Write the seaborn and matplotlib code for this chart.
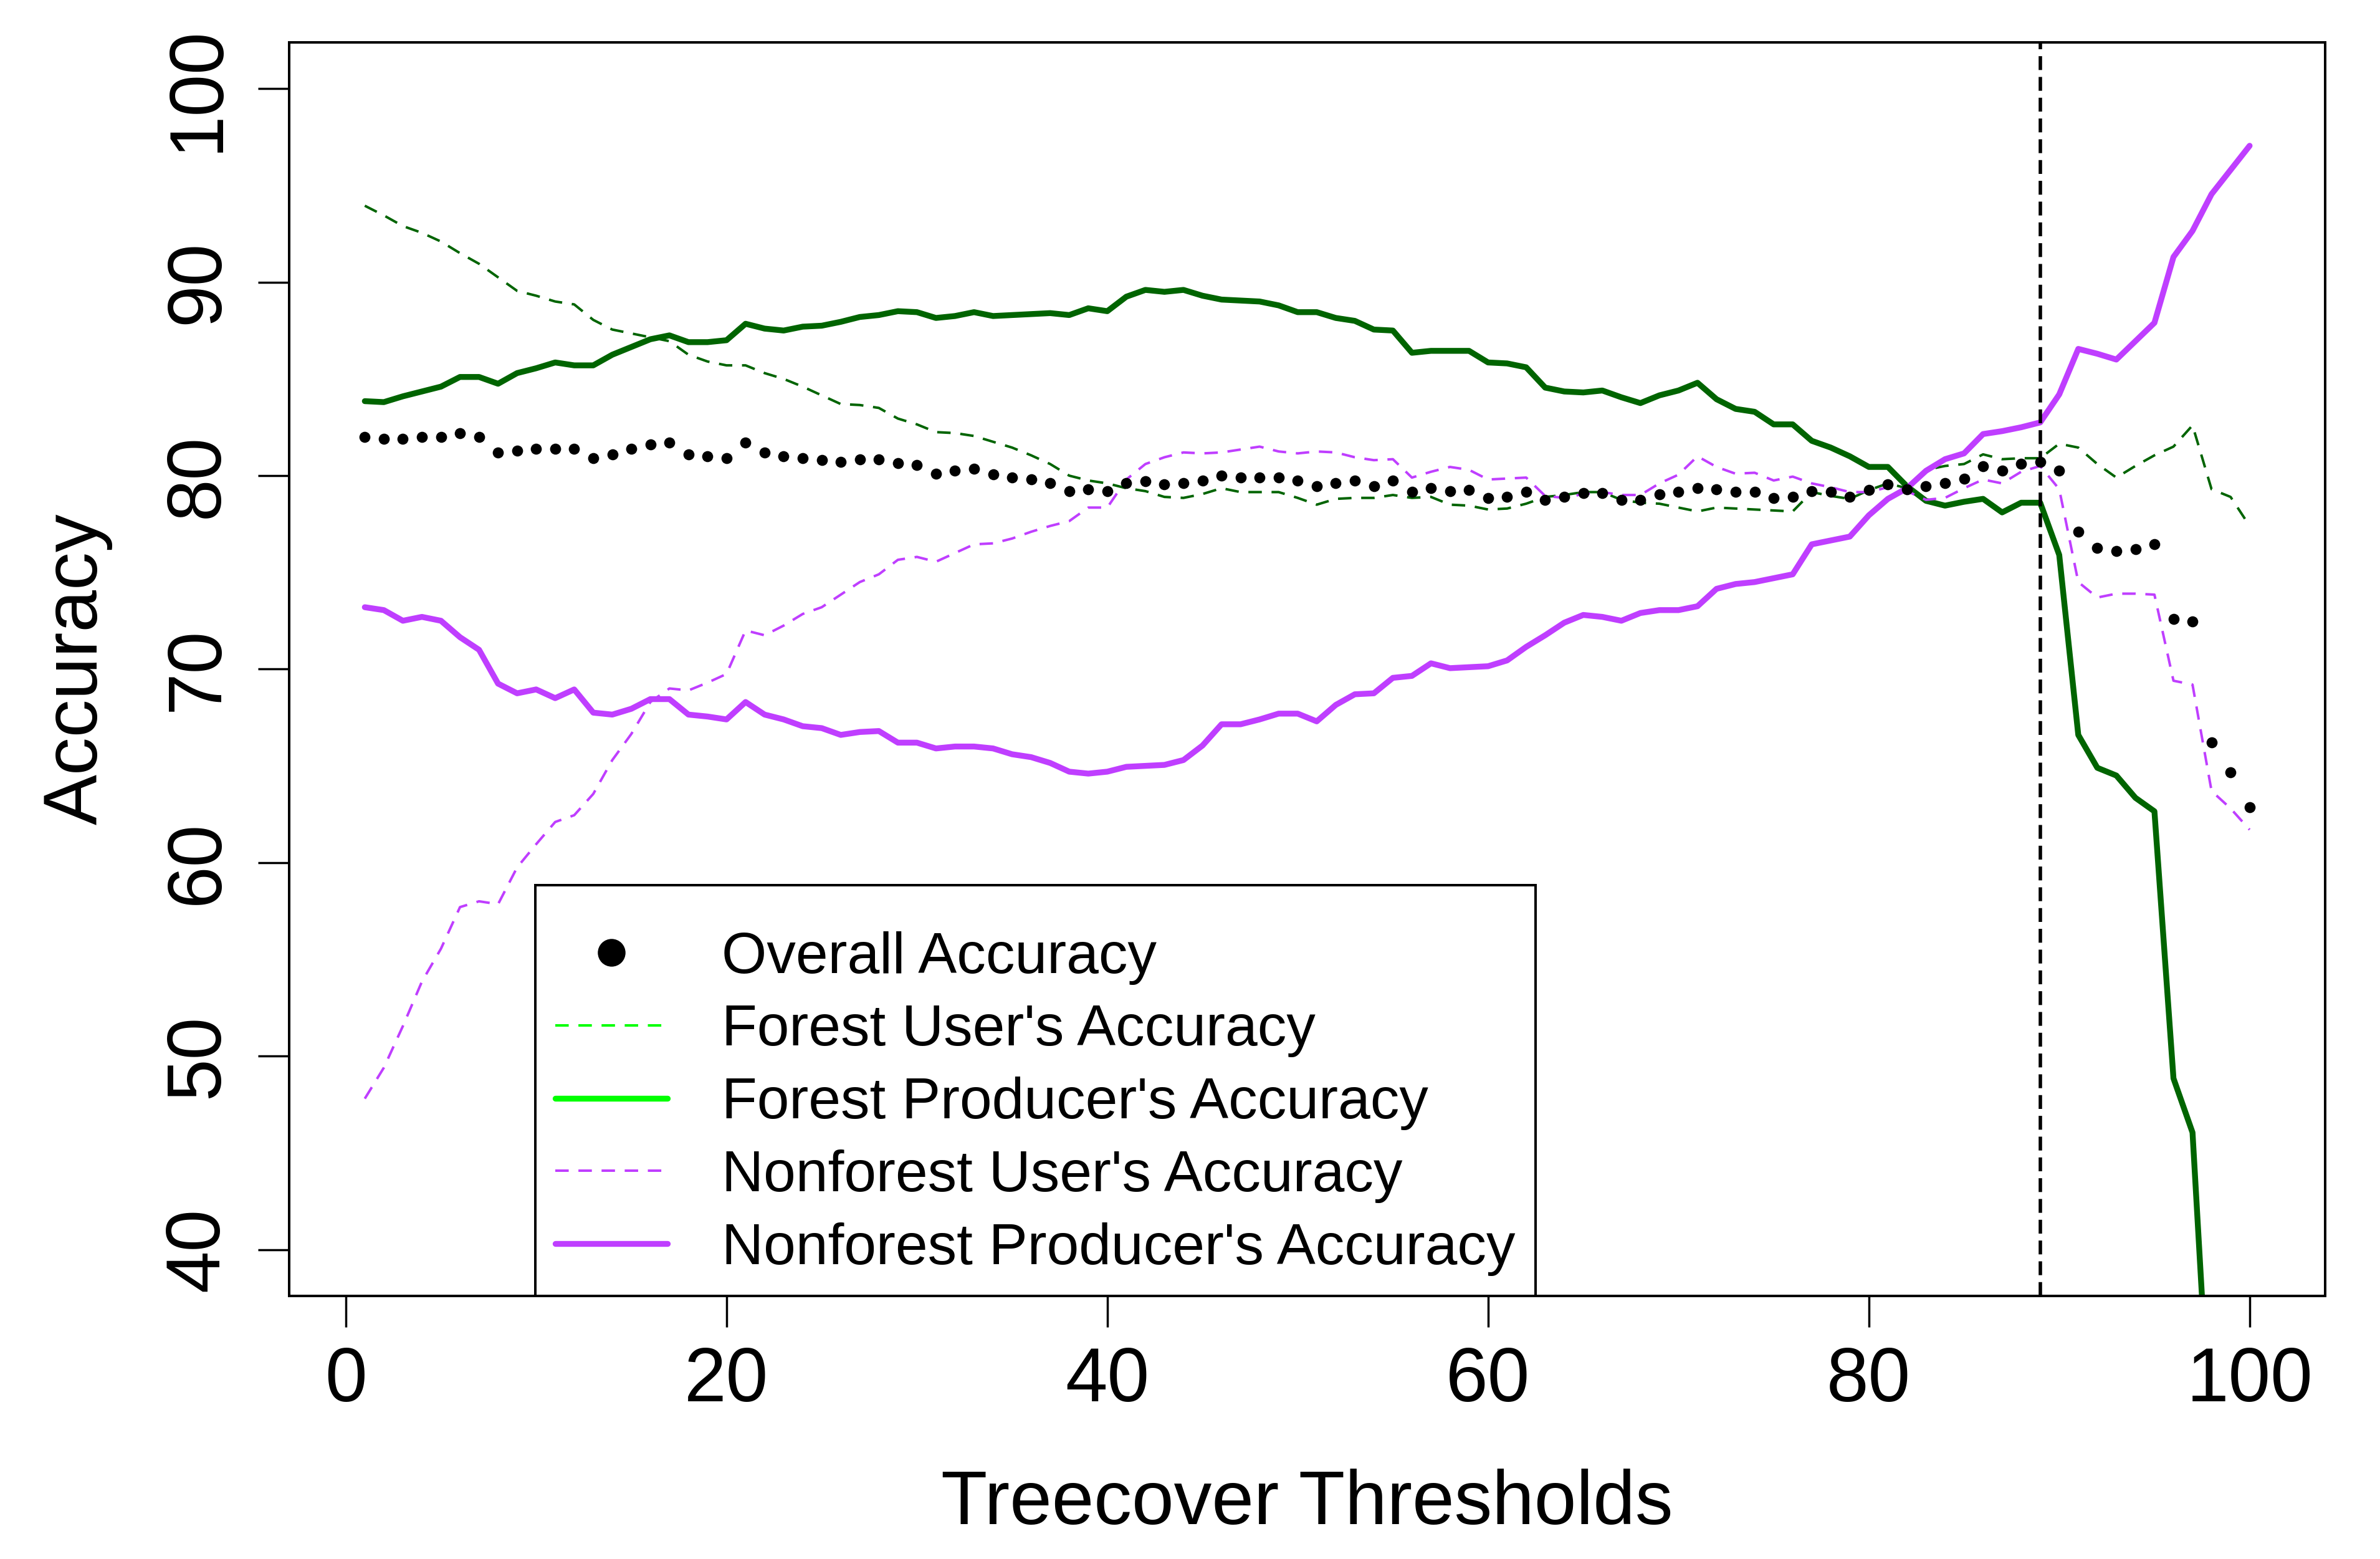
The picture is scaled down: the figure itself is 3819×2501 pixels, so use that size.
import numpy as np
import pandas as pd
import seaborn as sns
import matplotlib.pyplot as plt
from matplotlib.lines import Line2D

# ============ Data ============
thresholds = list(range(1, 101))

overall = [82.0, 81.9, 81.9, 82.0, 82.0, 82.2, 82.0, 81.2, 81.3, 81.4,
           81.4, 81.4, 80.9, 81.1, 81.4, 81.6, 81.7, 81.1, 81.0, 80.9,
           81.7, 81.2, 81.0, 80.9, 80.8, 80.7, 80.85, 80.85, 80.65, 80.55,
           80.1, 80.25, 80.35, 80.05, 79.9, 79.8, 79.6, 79.2, 79.3, 79.2,
           79.6, 79.7, 79.55, 79.6, 79.75, 80.0, 79.9, 79.9, 79.9, 79.75,
           79.45, 79.6, 79.75, 79.45, 79.75, 79.15, 79.35, 79.2, 79.25, 78.85,
           78.9, 79.15, 78.75, 78.9, 79.1, 79.1, 78.75, 78.75, 79.05, 79.15,
           79.35, 79.3, 79.15, 79.15, 78.85, 78.9, 79.2, 79.15, 78.9, 79.25,
           79.55, 79.3, 79.45, 79.6, 79.85, 80.5, 80.25, 80.6, 80.7, 80.25,
           77.1, 76.25, 76.1, 76.2, 76.45, 72.6, 72.45, 66.2, 64.65, 62.85]

forest_users = [93.95, 93.45, 92.9, 92.55, 92.1, 91.5, 90.95, 90.25, 89.55, 89.3,
                89.0, 88.85, 88.05, 87.55, 87.35, 87.15, 86.95, 86.25, 85.9, 85.7,
                85.7, 85.3, 85.0, 84.6, 84.15, 83.7, 83.65, 83.5, 82.95, 82.65,
                82.25, 82.2, 82.05, 81.75, 81.45, 81.05, 80.6, 80.0, 79.75, 79.6,
                79.35, 79.2, 78.9, 78.85, 79.05, 79.35, 79.15, 79.15, 79.15, 78.85,
                78.5, 78.8, 78.85, 78.85, 79.0, 78.85, 78.9, 78.5, 78.45, 78.25,
                78.3, 78.55, 78.9, 79.0, 79.15, 79.15, 78.75, 78.6, 78.55, 78.35,
                78.15, 78.35, 78.3, 78.25, 78.2, 78.15, 79.15, 78.95, 78.8, 79.25,
                79.6, 79.35, 80.3, 80.5, 80.6, 81.1, 80.85, 80.9, 80.9, 81.65,
                81.45, 80.6, 79.9, 80.5, 81.05, 81.5, 82.6, 79.3, 78.9, 77.4]

forest_producers = [83.85, 83.8, 84.1, 84.35, 84.6, 85.1, 85.1, 84.75, 85.3, 85.55,
                    85.85, 85.7, 85.7, 86.25, 86.65, 87.05, 87.25, 86.9, 86.9, 87.0,
                    87.85, 87.6, 87.5, 87.7, 87.75, 87.95, 88.2, 88.3, 88.5, 88.45,
                    88.15, 88.25, 88.45, 88.25, 88.3, 88.35, 88.4, 88.3, 88.65, 88.5,
                    89.25, 89.6, 89.5, 89.6, 89.3, 89.1, 89.05, 89.0, 88.8, 88.45,
                    88.45, 88.15, 88.0, 87.55, 87.5, 86.35, 86.45, 86.45, 86.45, 85.85,
                    85.8, 85.6, 84.55, 84.35, 84.3, 84.4, 84.05, 83.75, 84.15, 84.4,
                    84.8, 83.95, 83.45, 83.3, 82.65, 82.65, 81.8, 81.45, 81.0, 80.45,
                    80.45, 79.45, 78.7, 78.45, 78.65, 78.8, 78.1, 78.6, 78.6, 75.9,
                    66.6, 64.9, 64.5, 63.35, 62.65, 48.85, 46.05, 29.0, 22.0, 15.0]

nonforest_users = [47.8, 49.4, 51.55, 53.85, 55.55, 57.7, 58.0, 57.85, 59.75, 60.95,
                   62.1, 62.45, 63.55, 65.3, 66.65, 68.3, 69.0, 68.9, 69.3, 69.75,
                   72.0, 71.75, 72.25, 72.85, 73.2, 73.85, 74.5, 74.9, 75.65, 75.8,
                   75.55, 76.0, 76.45, 76.5, 76.75, 77.1, 77.4, 77.65, 78.35, 78.35,
                   79.8, 80.6, 80.95, 81.2, 81.15, 81.2, 81.35, 81.5, 81.25, 81.15,
                   81.25, 81.2, 80.95, 80.8, 80.85, 79.9, 80.2, 80.45, 80.3, 79.8,
                   79.85, 79.9, 78.95, 78.85, 79.05, 79.15, 79.0, 79.0, 79.6, 80.05,
                   81.0, 80.45, 80.1, 80.15, 79.75, 79.95, 79.6, 79.4, 79.15, 79.15,
                   79.4, 79.2, 78.75, 78.85, 79.35, 79.8, 79.6, 80.2, 80.5, 79.3,
                   74.5, 73.7, 73.9, 73.9, 73.85, 69.4, 69.2, 63.7, 62.8, 61.7]

nonforest_producers = [73.2, 73.05, 72.5, 72.7, 72.5, 71.65, 71.0, 69.25, 68.75, 68.95,
                       68.5, 68.95, 67.75, 67.65, 67.95, 68.45, 68.45, 67.65, 67.55, 67.4,
                       68.3, 67.65, 67.4, 67.05, 66.95, 66.6, 66.75, 66.8, 66.2, 66.2,
                       65.9, 66.0, 66.0, 65.9, 65.6, 65.45, 65.15, 64.7, 64.6, 64.7,
                       64.95, 65.0, 65.05, 65.3, 66.05, 67.15, 67.15, 67.4, 67.7, 67.7,
                       67.3, 68.15, 68.7, 68.75, 69.55, 69.65, 70.3, 70.05, 70.1, 70.15,
                       70.45, 71.15, 71.75, 72.4, 72.8, 72.7, 72.5, 72.9, 73.05, 73.05,
                       73.25, 74.15, 74.4, 74.5, 74.7, 74.9, 76.45, 76.65, 76.85, 77.95,
                       78.8, 79.35, 80.25, 80.85, 81.15, 82.15, 82.3, 82.5, 82.75, 84.2,
                       86.55, 86.3, 86.0, 86.95, 87.9, 91.3, 92.65, 94.55, 95.8, 97.05]

chosen_threshold = 89

legend_labels = ["Overall Accuracy", "Forest User's Accuracy",
                 "Forest Producer's Accuracy", "Nonforest User's Accuracy",
                 "Nonforest Producer's Accuracy"]

df = pd.DataFrame({
    "threshold": thresholds,
    "overall": overall,
    "forest_users": forest_users,
    "forest_producers": forest_producers,
    "nonforest_users": nonforest_users,
    "nonforest_producers": nonforest_producers,
})

# ============ Style ============
sns.set_theme(style="white")
plt.rcParams['font.family'] = ['Liberation Sans', 'DejaVu Sans']
plt.rcParams['text.color'] = 'black'
plt.rcParams['axes.labelcolor'] = 'black'
plt.rcParams['xtick.color'] = 'black'
plt.rcParams['ytick.color'] = 'black'

dark_green = "#006400"
bright_green = "#00FF00"
purple = "#BF3EFF"

dash_thin = (0, (5.4, 3.9))

# ============ Figure ============
fig = plt.figure(figsize=(3819 / 250, 2501 / 250), dpi=250)
ax = fig.add_axes([0.1216, 0.1687, 0.8553, 0.8042])

sns.lineplot(data=df, x="threshold", y="forest_users", ax=ax, color=dark_green,
             lw=1.15, linestyle=dash_thin, errorbar=None, estimator=None, sort=False)
sns.lineplot(data=df, x="threshold", y="forest_producers", ax=ax, color=dark_green,
             lw=2.7, errorbar=None, estimator=None, sort=False)
sns.lineplot(data=df, x="threshold", y="nonforest_users", ax=ax, color=purple,
             lw=1.15, linestyle=dash_thin, errorbar=None, estimator=None, sort=False)
sns.lineplot(data=df, x="threshold", y="nonforest_producers", ax=ax, color=purple,
             lw=2.7, errorbar=None, estimator=None, sort=False)
sns.scatterplot(data=df, x="threshold", y="overall", ax=ax, color="black",
                s=26, linewidth=0, zorder=3)

ax.axvline(chosen_threshold, color="black", lw=1.6, linestyle=(0, (4.0, 2.0)))

# ============ Axes ============
ax.set_xlim(-2.96, 103.96)
ax.set_ylim(37.6, 102.4)
ax.set_xticks([0, 20, 40, 60, 80, 100])
ax.set_yticks([40, 50, 60, 70, 80, 90, 100])
for sp in ax.spines.values():
    sp.set_visible(True)
    sp.set_color("black")
    sp.set_linewidth(1.15)
ax.tick_params(axis="both", which="major", direction="out", length=14.4, width=1.0,
               color="black", labelcolor="black", labelsize=35,
               bottom=True, left=True, top=False, right=False)
ax.tick_params(axis="x", pad=8.5)
ax.tick_params(axis="y", pad=11.4)
plt.setp(ax.get_yticklabels(), rotation=90, va="center")

ax.set_xlabel("Treecover Thresholds", fontsize=35, labelpad=24, color="black")
ax.set_ylabel("Accuracy", fontsize=35, labelpad=23, color="black")

# ============ Legend ============
handles = [
    Line2D([], [], marker="o", ls="none", color="black", markersize=11.8),
    Line2D([], [], color=bright_green, lw=1.15, linestyle=dash_thin),
    Line2D([], [], color=bright_green, lw=2.7),
    Line2D([], [], color=purple, lw=1.15, linestyle=dash_thin),
    Line2D([], [], color=purple, lw=2.7),
]
leg = ax.legend(handles, legend_labels, loc="lower left", bbox_to_anchor=(0.1207, 0.0),
                borderaxespad=0, fontsize=26.8, frameon=True, fancybox=False,
                edgecolor="black", framealpha=1, handlelength=1.93, handletextpad=0.94,
                labelspacing=0.33, borderpad=0.35, title=" ", title_fontsize=3)
leg.get_frame().set_linewidth(1.15)
for t in leg.get_texts():
    t.set_color("black")

fig.savefig("out.png", dpi=250)
